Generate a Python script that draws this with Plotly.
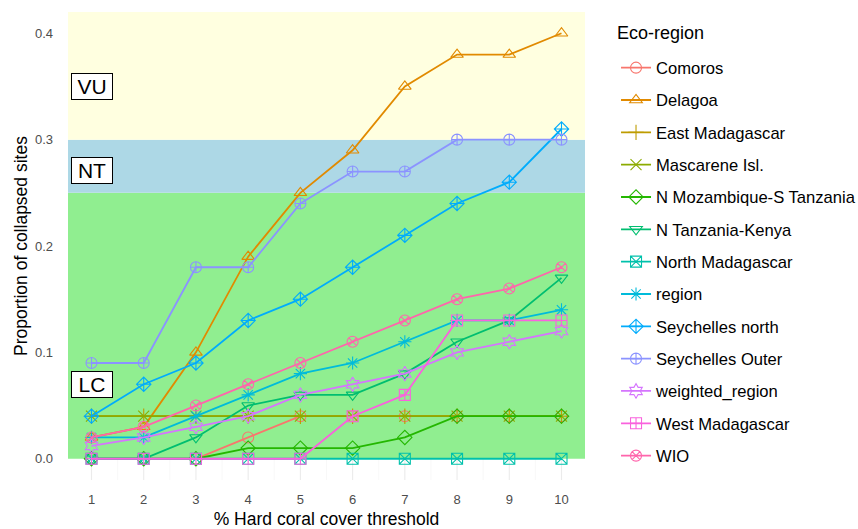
import plotly.graph_objects as go

thresholds = [1, 2, 3, 4, 5, 6, 7, 8, 9, 10]

comoros = [0, 0, 0, 0.02, 0.04, 0.04, 0.04, 0.04, 0.04, 0.04]
delagoa = [0.02, 0.03, 0.10, 0.19, 0.25, 0.29, 0.35, 0.38, 0.38, 0.40]
east_madagascar = [0.04, 0.04, 0.04, 0.04, 0.04, 0.04, 0.04, 0.04, 0.04, 0.04]
mascarene = [0.04, 0.04, 0.04, 0.04, 0.04, 0.04, 0.04, 0.04, 0.04, 0.04]
n_mozambique = [0, 0, 0, 0.01, 0.01, 0.01, 0.02, 0.04, 0.04, 0.04]
n_tanzania = [0, 0, 0.02, 0.05, 0.06, 0.06, 0.08, 0.11, 0.13, 0.17]
north_madagascar = [0, 0, 0, 0, 0, 0, 0, 0, 0, 0]
region = [0.02, 0.02, 0.04, 0.06, 0.08, 0.09, 0.11, 0.13, 0.13, 0.14]
seychelles_north = [0.04, 0.07, 0.09, 0.13, 0.15, 0.18, 0.21, 0.24, 0.26, 0.31]
seychelles_outer = [0.09, 0.09, 0.18, 0.18, 0.24, 0.27, 0.27, 0.30, 0.30, 0.30]
weighted_region = [0.012, 0.02, 0.03, 0.04, 0.06, 0.07, 0.08, 0.10, 0.11, 0.12]
west_madagascar = [0, 0, 0, 0, 0, 0.04, 0.06, 0.13, 0.13, 0.13]
wio = [0.02, 0.03, 0.05, 0.07, 0.09, 0.11, 0.13, 0.15, 0.16, 0.18]

series_names = ["Comoros", "Delagoa", "East Madagascar", "Mascarene Isl.",
                "N Mozambique-S Tanzania", "N Tanzania-Kenya", "North Madagascar",
                "region", "Seychelles north", "Seychelles Outer", "weighted_region",
                "West Madagascar", "WIO"]
series_values = [comoros, delagoa, east_madagascar, mascarene, n_mozambique,
                 n_tanzania, north_madagascar, region, seychelles_north,
                 seychelles_outer, weighted_region, west_madagascar, wio]
colors = ["#F8766D", "#E18A00", "#BE9C00", "#8CAB00", "#24B700", "#00BE70",
          "#00C1AB", "#00BBDA", "#00ACFC", "#8B93FF", "#D575FE", "#F962DD", "#FF65AC"]
symbols = ["circle-open", "triangle-up-open", "cross-thin-open", "x-thin-open",
           "diamond-open", "triangle-down-open", "square-x-open", "asterisk-open",
           "diamond-cross-open", "circle-cross-open", "hexagram-open",
           "square-cross-open", "circle-x-open"]

band_labels = ["VU", "NT", "LC"]
band_label_y = [0.35, 0.271, 0.07]
band_edges = [0, 0.25, 0.30, 0.42]
band_colors = ["#90EE90", "#ADD8E6", "#FFFFE0"]

x_range = [0.55, 10.45]
y_range = [-0.02, 0.42]
FONT = "Liberation Sans, Arial, sans-serif"

fig = go.Figure()

# status bands
for i, col in enumerate(band_colors):
    fig.add_shape(type="rect", xref="x", yref="y", x0=x_range[0], x1=x_range[1],
                  y0=band_edges[i], y1=band_edges[i + 1],
                  fillcolor=col, line_width=0, layer="below")

# grid lines only visible in the strip below the bands
major_grid = thresholds
minor_grid = [t + 0.5 for t in thresholds[:-1]]
for gx in major_grid:
    fig.add_shape(type="line", xref="x", yref="y", x0=gx, x1=gx, y0=y_range[0], y1=0,
                  line=dict(color="#EBEBEB", width=1.1), layer="below")
for gx in minor_grid:
    fig.add_shape(type="line", xref="x", yref="y", x0=gx, x1=gx, y0=y_range[0], y1=0,
                  line=dict(color="#F4F4F4", width=0.6), layer="below")

for i, (name, vals, col, sym) in enumerate(zip(series_names, series_values, colors, symbols)):
    fig.add_trace(go.Scatter(
        x=thresholds, y=vals, name=name, mode="lines+markers",
        legendgroup=f"g{i}",
        line=dict(color=col, width=1.8),
        marker=dict(symbol=sym, size=11, color=col, line=dict(color=col, width=1.1)),
    ))

for lab, yv in zip(band_labels, band_label_y):
    fig.add_annotation(x=1, y=yv, xref="x", yref="y", text=lab, showarrow=False,
                       font=dict(size=21, color="black", family=FONT),
                       bgcolor="white", bordercolor="black", borderwidth=1, borderpad=1,
                       width=38, align="center")

# legend title (plot area spans x 68..585, y 12..480 in pixels)
fig.add_annotation(x=(615 - 68) / 517, y=(480 - 33) / 468, xref="paper", yref="paper",
                   text="Eco-region", showarrow=False, xanchor="left", yanchor="middle",
                   font=dict(size=18, color="black", family=FONT))

fig.update_layout(
    width=858, height=529,
    margin=dict(l=68, r=273, t=12, b=49, autoexpand=False),
    paper_bgcolor="white", plot_bgcolor="white",
    font=dict(family=FONT),
    legend=dict(
        font=dict(size=16.6, color="black"),
        x=1.06, xanchor="left", y=0.918, yanchor="top",
        tracegroupgap=7.75, itemwidth=30,
    ),
    showlegend=True,
)

fig.update_xaxes(
    range=x_range, tickmode="array", tickvals=thresholds,
    ticktext=[str(t) for t in thresholds],
    showgrid=False, zeroline=False, showline=False, automargin=False,
    ticks="", ticklabelstandoff=10,
    tickfont=dict(size=13, color="#4D4D4D"),
    title=dict(text="% Hard coral cover threshold", font=dict(size=17.5, color="black"), standoff=6),
)
fig.update_yaxes(
    range=y_range, tickmode="array", tickvals=[0, 0.1, 0.2, 0.3, 0.4],
    ticktext=["0.0", "0.1", "0.2", "0.3", "0.4"],
    showgrid=False, zeroline=False, showline=False, automargin=False,
    ticks="", ticklabelstandoff=14,
    tickfont=dict(size=13, color="#4D4D4D"),
    title=dict(text="Proportion of collapsed sites", font=dict(size=17.5, color="black"), standoff=2),
)

fig.write_html("out.html", config={"displayModeBar": False},
               post_script="document.body.style.margin='0';")
